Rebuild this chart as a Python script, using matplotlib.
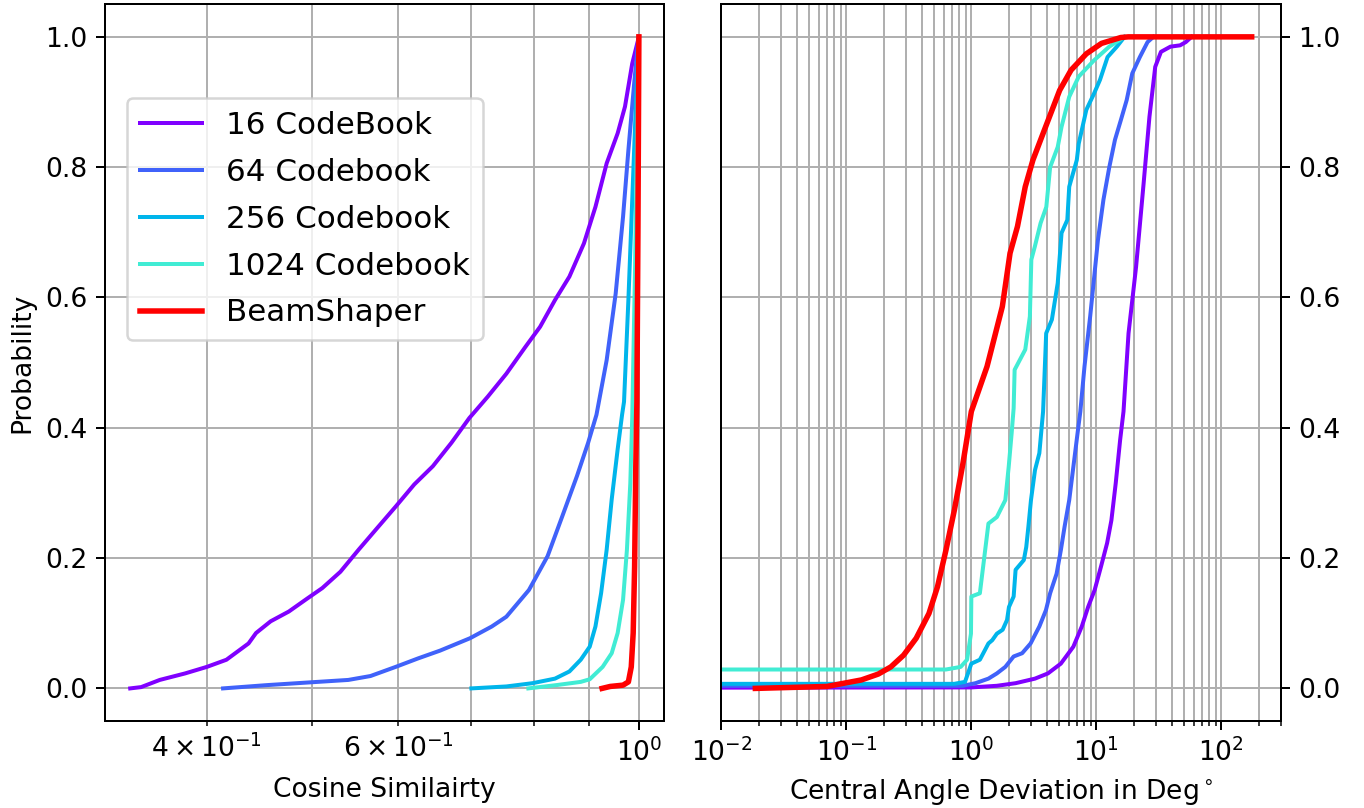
import numpy as np
import matplotlib
matplotlib.use("Agg")
import matplotlib.pyplot as plt

# -------------------------------
# Data (CDF curves)
# -------------------------------
labels = ["16 CodeBook", "64 Codebook", "256 Codebook", "1024 Codebook", "BeamShaper"]

# Left: cosine similarity vs probability
cos_16_x = [0.340, 0.348, 0.362, 0.382, 0.400, 0.417, 0.437, 0.444, 0.458, 0.476, 0.495,
            0.511, 0.531, 0.552, 0.574, 0.597, 0.621, 0.646, 0.672, 0.698, 0.726, 0.755,
            0.786, 0.811, 0.837, 0.863, 0.890, 0.912, 0.934, 0.956, 0.971, 0.986, 1.0]
cos_16_y = [0.0, 0.002, 0.013, 0.023, 0.033, 0.044, 0.069, 0.085, 0.103, 0.118, 0.138,
            0.154, 0.179, 0.213, 0.246, 0.279, 0.313, 0.341, 0.377, 0.415, 0.448, 0.483,
            0.524, 0.555, 0.596, 0.632, 0.683, 0.739, 0.806, 0.852, 0.893, 0.959, 1.0]

cos_64_x = [0.414, 0.454, 0.495, 0.540, 0.566, 0.597, 0.626, 0.656, 0.699, 0.732, 0.755,
            0.792, 0.824, 0.850, 0.877, 0.898, 0.914, 0.934, 0.952, 0.967, 0.978, 0.990,
            0.998, 1.0]
cos_64_y = [0.0, 0.005, 0.009, 0.013, 0.019, 0.033, 0.046, 0.058, 0.077, 0.095, 0.110,
            0.151, 0.203, 0.264, 0.326, 0.377, 0.420, 0.504, 0.606, 0.724, 0.826, 0.928,
            0.990, 1.0]

cos_256_x = [0.701, 0.755, 0.798, 0.837, 0.863, 0.884, 0.901, 0.912, 0.923, 0.934, 0.944,
             0.956, 0.965, 0.969, 0.978, 0.986, 0.994, 1.0]
cos_256_y = [0.0, 0.003, 0.008, 0.015, 0.026, 0.044, 0.064, 0.095, 0.146, 0.213, 0.290,
             0.367, 0.420, 0.440, 0.596, 0.749, 0.903, 1.0]

cos_1024_x = [0.791, 0.839, 0.884, 0.901, 0.926, 0.944, 0.956, 0.967, 0.975, 0.982,
              0.986, 0.992, 0.995, 1.0]
cos_1024_y = [0.0, 0.005, 0.010, 0.014, 0.033, 0.054, 0.085, 0.136, 0.213, 0.315,
              0.415, 0.647, 0.800, 1.0]

cos_bs_x = [0.925, 0.941, 0.967, 0.978, 0.984, 0.988, 0.991, 0.9935, 0.9958, 0.998, 1.0]
cos_bs_y = [0.0, 0.003, 0.005, 0.010, 0.033, 0.085, 0.187, 0.341, 0.440, 0.700, 1.0]

# Right: central angle deviation (deg) vs probability
ang_16_x = [0.001, 1.0, 1.6, 2.26, 3.23, 4.1, 5.2, 6.55, 7.65, 8.6, 9.7, 10.9, 12.2, 13.2,
            14.3, 15.5, 16.5, 18.1, 20.8, 23.9, 26.6, 29.6, 32.9, 39.2, 46.8, 52.0, 57.8]
ang_16_y = [0.001, 0.0015, 0.004, 0.008, 0.015, 0.023, 0.038, 0.064, 0.095, 0.125, 0.151,
            0.187, 0.223, 0.258, 0.315, 0.381, 0.425, 0.545, 0.647, 0.775, 0.877, 0.954,
            0.977, 0.985, 0.987, 0.992, 1.0]

ang_64_x = [0.001, 0.855, 1.08, 1.37, 1.6, 1.87, 2.18, 2.55, 2.98, 3.5, 3.95, 4.27, 4.81,
            5.2, 5.57, 6.07, 6.55, 7.07, 7.45, 8.04, 8.93, 10.3, 11.4, 12.7, 14.1, 15.7,
            17.5, 19.4, 22.3, 25.7, 28.6]
ang_64_y = [0.004, 0.004, 0.008, 0.015, 0.023, 0.033, 0.049, 0.054, 0.069, 0.095, 0.120,
            0.146, 0.176, 0.212, 0.248, 0.289, 0.340, 0.391, 0.425, 0.494, 0.571, 0.688,
            0.750, 0.800, 0.842, 0.872, 0.903, 0.944, 0.969, 0.992, 1.0]

ang_256_x = [0.001, 0.73, 0.89, 1.0, 1.17, 1.37, 1.47, 1.6, 1.78, 1.93, 2.0, 2.18, 2.26,
             2.63, 2.75, 2.86, 3.0, 3.23, 3.5, 3.75, 3.97, 4.41, 4.91, 5.27, 5.86, 6.07,
             6.98, 7.23, 8.32, 9.59, 10.7, 12.3, 14.6, 16.8]
ang_256_y = [0.007, 0.007, 0.010, 0.038, 0.044, 0.069, 0.074, 0.084, 0.090, 0.105, 0.125,
             0.141, 0.182, 0.197, 0.217, 0.248, 0.289, 0.335, 0.361, 0.425, 0.545, 0.566,
             0.622, 0.699, 0.719, 0.770, 0.811, 0.836, 0.888, 0.913, 0.934, 0.969, 0.985,
             1.0]

ang_1024_x = [0.001, 0.626, 0.822, 0.924, 0.993, 1.0, 1.17, 1.37, 1.6, 1.87, 1.99, 2.1,
              2.18, 2.22, 2.70, 2.94, 3.02, 3.22, 3.58, 3.98, 4.27, 4.91, 5.27, 6.07, 7.23,
              9.59, 12.7, 16.8]
ang_1024_y = [0.029, 0.029, 0.033, 0.044, 0.084, 0.141, 0.146, 0.253, 0.263, 0.289, 0.340,
              0.391, 0.430, 0.489, 0.520, 0.571, 0.658, 0.678, 0.714, 0.739, 0.800, 0.831,
              0.862, 0.908, 0.939, 0.964, 0.985, 1.0]

ang_bs_x = [0.0187, 0.070, 0.096, 0.132, 0.180, 0.227, 0.287, 0.362, 0.458, 0.536, 0.626,
            0.732, 0.856, 1.0, 1.335, 1.77, 2.04, 2.34, 2.70, 3.11, 3.84, 5.09, 6.28, 8.32,
            11.0, 15.7, 18.0, 175.0]
ang_bs_y = [0.0, 0.003, 0.008, 0.013, 0.022, 0.033, 0.051, 0.077, 0.115, 0.156, 0.212,
            0.274, 0.345, 0.425, 0.494, 0.586, 0.668, 0.709, 0.770, 0.811, 0.857, 0.918,
            0.949, 0.974, 0.990, 0.999, 1.0, 1.0]

cos_x = [cos_16_x, cos_64_x, cos_256_x, cos_1024_x, cos_bs_x]
cos_y = [cos_16_y, cos_64_y, cos_256_y, cos_1024_y, cos_bs_y]
ang_x = [ang_16_x, ang_64_x, ang_256_x, ang_1024_x, ang_bs_x]
ang_y = [ang_16_y, ang_64_y, ang_256_y, ang_1024_y, ang_bs_y]

# -------------------------------
# Styling
# -------------------------------
plt.rcParams["font.size"] = 10.6
colors = list(plt.cm.rainbow(np.linspace(0, 1, 9))[:4]) + ["red"]
widths = [1.6, 1.6, 1.6, 1.6, 2.2]

fig, (ax1, ax2) = plt.subplots(1, 2, figsize=(1364 / 180, 808 / 180), dpi=180)
fig.subplots_adjust(left=0.0768, right=0.9391, bottom=0.1077, top=0.9947, wspace=0.102)

# --- Cosine similarity ---
for x, y, c, lw, lab in zip(cos_x, cos_y, colors, widths, labels):
    ax1.plot(x, y, color=c, lw=lw, label=lab)
ax1.set_xscale("log")
ax1.grid(True, which="both")
ax1.set_xlabel("Cosine Similairty")
ax1.set_ylabel("Probability")
ax1.set_yticks([0.0, 0.2, 0.4, 0.6, 0.8, 1.0])
ax1.legend(fontsize=12.4, loc="upper left", bbox_to_anchor=(0.04, 0.869),
           borderaxespad=0, labelspacing=0.58)

# --- Angle deviation ---
for x, y, c, lw in zip(ang_x, ang_y, colors, widths):
    ax2.plot(x, y, color=c, lw=lw)
ax2.set_xscale("log")
ax2.set_xlim(1e-2, 3e2)
ax2.set_ylim(ax1.get_ylim())
ax2.grid(True, which="both")
ax2.yaxis.tick_right()
ax2.set_yticks([0.0, 0.2, 0.4, 0.6, 0.8, 1.0])
ax2.set_xlabel(r"Central Angle Deviation in Deg$^\circ$")

fig.savefig("out.png", dpi=180)
